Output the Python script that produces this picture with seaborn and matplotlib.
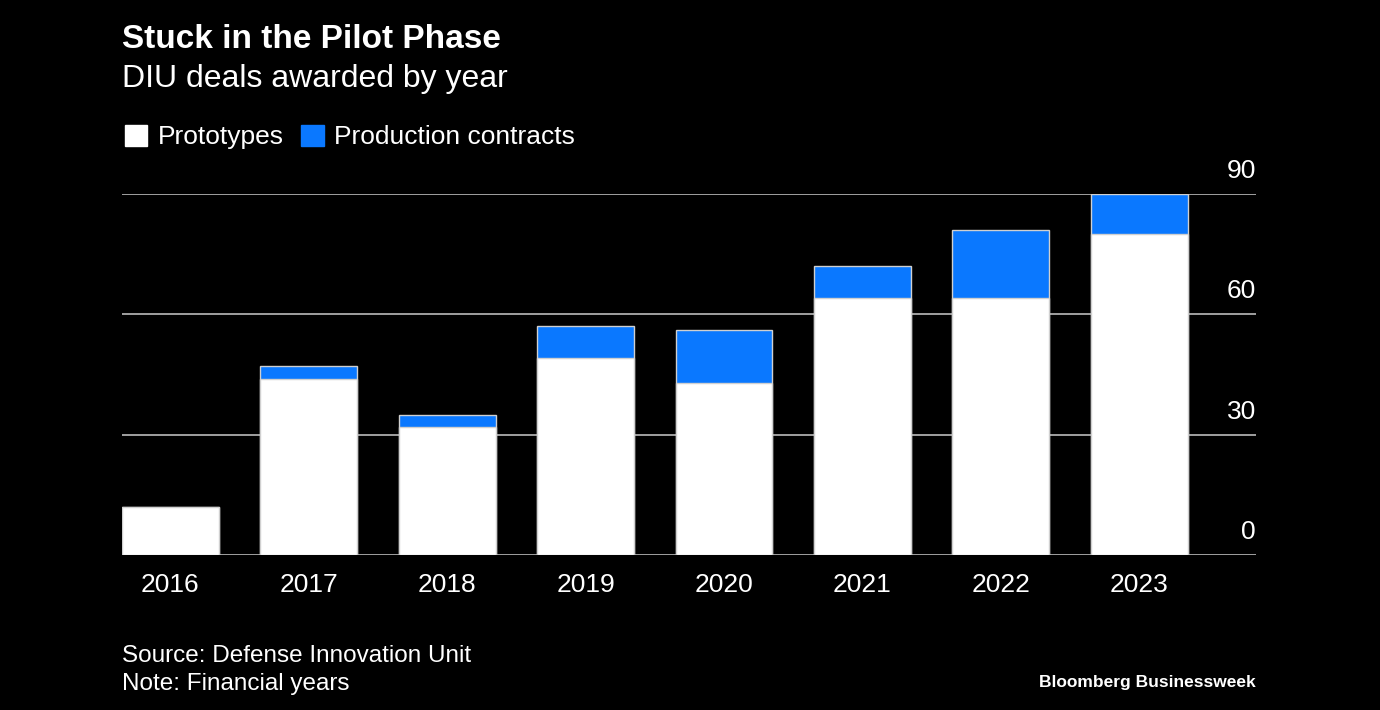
import matplotlib
matplotlib.use("Agg")
import matplotlib.pyplot as plt
import matplotlib.transforms as mtransforms
from matplotlib.patches import Patch
import pandas as pd
import seaborn as sns

years = ["2016", "2017", "2018", "2019", "2020", "2021", "2022", "2023"]
prototypes = [12, 44, 32, 49, 43, 64, 64, 80]
production = [0, 3, 3, 8, 13, 8, 17, 10]
y_ticks = [0, 30, 60, 90]

BLUE = "#0a78ff"
BG = "black"
GRID = "#a0a0a0"
EDGE = "#d0d0d0"

sns.set_style("dark")
plt.rcParams["font.family"] = ["Liberation Sans", "DejaVu Sans"]

df = pd.DataFrame({"year": years, "prototypes": prototypes, "production": production})
df["total"] = df["prototypes"] + df["production"]

fig = plt.figure(figsize=(13.8, 7.1), dpi=100, facecolor=BG)
ax = fig.add_axes([122 / 1380, 155 / 710, 1134 / 1380, 361 / 710])
ax.set_facecolor(BG)

# gridlines behind bars
for t in y_ticks:
    ax.axhline(t, color=GRID, lw=1.4, zorder=0)

sns.barplot(data=df, x="year", y="total", color=BLUE, width=0.7,
            edgecolor=EDGE, linewidth=1.0, saturation=1, ax=ax, zorder=2)
sns.barplot(data=df, x="year", y="prototypes", color="white", width=0.7,
            edgecolor=EDGE, linewidth=1.0, saturation=1, ax=ax, zorder=3)

ax.set_xlim(-0.35, 7.845)
ax.set_ylim(0, 90)
ax.set_xlabel("")
ax.set_ylabel("")
ax.set_yticks([])
ax.tick_params(axis="x", length=0, pad=13, labelsize=19, colors="white")
for s in ax.spines.values():
    s.set_visible(False)
ax.grid(False)

trans = mtransforms.blended_transform_factory(ax.transAxes, ax.transData)
for t in y_ticks:
    ax.annotate(str(t), xy=(1.0, t), xycoords=trans, xytext=(0, 8),
                textcoords="offset points", ha="right", va="bottom",
                color="white", fontsize=19, annotation_clip=False)

fig.text(122 / 1380, 1 - 40 / 710, "Stuck in the Pilot Phase", color="white",
         fontsize=24, fontweight="bold", va="center", ha="left")
fig.text(122 / 1380, 1 - 79 / 710, "DIU deals awarded by year", color="white",
         fontsize=23, va="center", ha="left")

handles = [Patch(facecolor="white", edgecolor="white", label="Prototypes"),
           Patch(facecolor=BLUE, edgecolor=BLUE, label="Production contracts")]
leg = fig.legend(handles=handles, loc="center left",
                 bbox_to_anchor=(125 / 1380, 1 - 137 / 710), ncol=2,
                 frameon=False, fontsize=19, handlelength=0.85, handleheight=0.85,
                 handletextpad=0.4, columnspacing=0.65, borderpad=0, borderaxespad=0)
for txt in leg.get_texts():
    txt.set_color("white")

fig.text(122 / 1380, 1 - 656 / 710, "Source: Defense Innovation Unit", color="white",
         fontsize=17.5, va="center", ha="left")
fig.text(122 / 1380, 1 - 684 / 710, "Note: Financial years", color="white",
         fontsize=17.5, va="center", ha="left")
fig.text(1256 / 1380, 1 - 682 / 710, "Bloomberg Businessweek", color="white",
         fontsize=12.5, fontweight="bold", va="center", ha="right")

fig.savefig("out.png", dpi=100, facecolor=BG)
